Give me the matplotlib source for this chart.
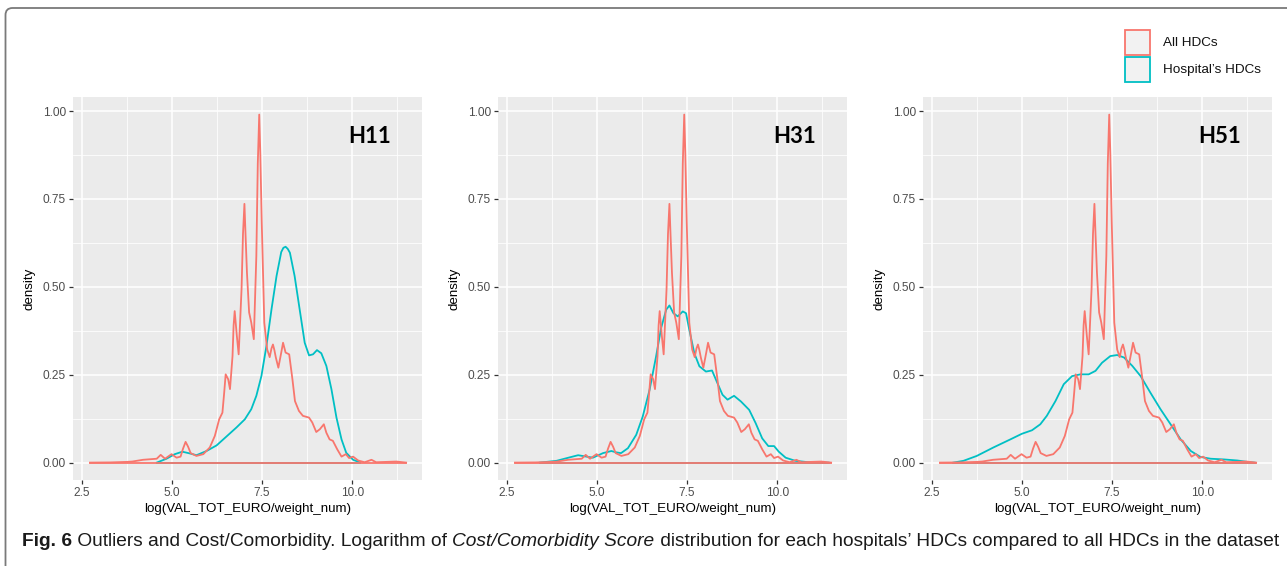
import matplotlib
matplotlib.use("Agg")
import matplotlib.pyplot as plt
from matplotlib.patches import FancyBboxPatch, Rectangle
from matplotlib import font_manager
import numpy as np

# ---------------- data ----------------
panels = ["H11", "H31", "H51"]

all_x = [2.73, 3.30, 3.75, 3.90, 4.20, 4.58, 4.69, 4.81, 4.99, 5.13, 5.24, 5.31, 5.38, 5.45,
         5.52, 5.68, 5.87, 6.05, 6.19, 6.31, 6.40, 6.45, 6.49, 6.56, 6.61, 6.68, 6.71, 6.74,
         6.80, 6.85, 6.93, 6.97, 7.01, 7.04, 7.08, 7.14, 7.20, 7.27, 7.34, 7.38, 7.42, 7.45,
         7.49, 7.56, 7.64, 7.71, 7.76, 7.80, 7.84, 7.88, 7.95, 8.03, 8.08, 8.15, 8.25, 8.34,
         8.41, 8.52, 8.63, 8.80, 8.89, 9.00, 9.10, 9.21, 9.28, 9.37, 9.46, 9.58, 9.70, 9.82,
         9.91, 10.02, 10.16, 10.34, 10.53, 10.66, 11.22, 11.49]
all_y = [0.000, 0.0005, 0.002, 0.003, 0.008, 0.011, 0.022, 0.011, 0.024, 0.014, 0.017, 0.040, 0.059, 0.045,
         0.027, 0.019, 0.024, 0.043, 0.076, 0.123, 0.142, 0.200, 0.251, 0.237, 0.209, 0.303, 0.390, 0.431,
         0.360, 0.308, 0.493, 0.650, 0.736, 0.650, 0.540, 0.427, 0.398, 0.351, 0.588, 0.850, 0.990, 0.880,
         0.682, 0.398, 0.322, 0.300, 0.325, 0.336, 0.320, 0.299, 0.270, 0.313, 0.341, 0.313, 0.308, 0.237,
         0.175, 0.147, 0.133, 0.128, 0.114, 0.087, 0.095, 0.109, 0.085, 0.066, 0.062, 0.038, 0.017, 0.024,
         0.013, 0.017, 0.006, 0.001, 0.008, 0.001, 0.003, 0.000]

h11_x = [4.58, 4.85, 5.08, 5.29, 5.50, 5.68, 5.96, 6.24, 6.51, 6.79, 7.02, 7.20, 7.34, 7.48,
         7.62, 7.76, 7.90, 8.03, 8.09, 8.15, 8.21, 8.27, 8.40, 8.54, 8.68, 8.80, 8.91, 9.02, 9.14, 9.28,
         9.42, 9.56, 9.70, 9.83, 10.02, 10.20]
h11_y = [0.000, 0.011, 0.024, 0.031, 0.026, 0.021, 0.033, 0.049, 0.074, 0.100, 0.123, 0.152, 0.190, 0.246,
         0.332, 0.436, 0.531, 0.599, 0.611, 0.614, 0.608, 0.597, 0.531, 0.436, 0.341, 0.305, 0.308, 0.320,
         0.311, 0.275, 0.209, 0.128, 0.066, 0.028, 0.008, 0.001]

h31_x = [3.42, 3.88, 4.25, 4.48, 4.71, 4.89, 5.17, 5.40, 5.54, 5.67, 5.86, 6.09, 6.27, 6.46,
         6.64, 6.78, 6.92, 7.01, 7.12, 7.24, 7.38, 7.47, 7.56, 7.70, 7.84, 8.02, 8.19, 8.34,
         8.48, 8.62, 8.80, 8.99, 9.22, 9.40, 9.58, 9.75, 9.91, 10.04, 10.23, 10.50, 10.87, 11.42]
h31_y = [0.000, 0.005, 0.015, 0.021, 0.017, 0.014, 0.027, 0.033, 0.029, 0.027, 0.041, 0.079, 0.131, 0.207,
         0.302, 0.383, 0.435, 0.447, 0.425, 0.416, 0.430, 0.425, 0.378, 0.311, 0.274, 0.259, 0.262, 0.226,
         0.193, 0.179, 0.190, 0.174, 0.150, 0.112, 0.069, 0.047, 0.047, 0.031, 0.014, 0.005, 0.001, 0.000]

h51_x = [3.10, 3.38, 3.75, 4.21, 4.68, 5.00, 5.28, 5.51, 5.69, 5.93, 6.16, 6.39, 6.62, 6.85,
         7.04, 7.22, 7.45, 7.64, 7.83, 8.06, 8.29, 8.56, 8.84, 9.12, 9.40, 9.68, 9.95, 10.23,
         10.60, 10.97, 11.25, 11.45]
h51_y = [0.000, 0.005, 0.019, 0.043, 0.066, 0.082, 0.092, 0.109, 0.133, 0.175, 0.223, 0.246, 0.251, 0.251,
         0.261, 0.284, 0.303, 0.306, 0.299, 0.275, 0.246, 0.199, 0.152, 0.109, 0.066, 0.033, 0.016, 0.011,
         0.009, 0.006, 0.002, 0.000]

hosp_series = [(h11_x, h11_y), (h31_x, h31_y), (h51_x, h51_y)]

legend_labels = ["All HDCs", "Hospital\u2019s HDCs"]
x_ticks = [2.5, 5.0, 7.5, 10.0]
x_tick_labels = ["2.5", "5.0", "7.5", "10.0"]
y_ticks = [0.0, 0.25, 0.50, 0.75, 1.00]
y_tick_labels = ["0.00", "0.25", "0.50", "0.75", "1.00"]
x_label = "log(VAL_TOT_EURO/weight_num)"
y_label = "density"

RED = "#F8766D"
TEAL = "#00BFC4"

# ---------------- figure ----------------
W, H = 1287, 566
fig = plt.figure(figsize=(W / 100, H / 100), dpi=100)
fig.patch.set_facecolor("white")

def fx(px):
    return px / W

def fy(py):
    return 1 - py / H

lefts = [73, 498, 923]
top, bottom = 97, 480
width = 349
xlim = (2.26, 11.93)
ylim = (-0.0495, 1.04)

for i, (name, (hx, hy)) in enumerate(zip(panels, hosp_series)):
    ax = fig.add_axes([fx(lefts[i]), fy(bottom), width / W, (bottom - top) / H])
    ax.set_facecolor("#EBEBEB")
    for s in ax.spines.values():
        s.set_visible(False)
    ax.set_xlim(*xlim)
    ax.set_ylim(*ylim)
    ax.set_xticks(x_ticks)
    ax.set_xticklabels(x_tick_labels)
    ax.set_yticks(y_ticks)
    ax.set_yticklabels(y_tick_labels)
    ax.set_xticks([3.75, 6.25, 8.75, 11.25], minor=True)
    ax.set_yticks([0.125, 0.375, 0.625, 0.875], minor=True)
    ax.grid(True, which="major", color="white", lw=1.1, zorder=0)
    ax.grid(True, which="minor", color="white", lw=0.55, zorder=0)
    ax.set_axisbelow(True)
    ax.tick_params(which="major", length=3, width=0.9, color="#333333",
                   labelcolor="#4D4D4D", labelsize=8.6, pad=2)
    ax.tick_params(which="minor", length=0)
    for lab in ax.get_xticklabels() + ax.get_yticklabels():
        lab.set_family("Liberation Sans")

    ax.plot(hx, hy, color=TEAL, lw=1.3, zorder=3)
    ax.plot([hx[0], hx[-1]], [0, 0], color=TEAL, lw=1.3, zorder=3)
    ax.plot(all_x, all_y, color=RED, lw=1.3, zorder=4)
    ax.plot([all_x[0], all_x[-1]], [0, 0], color=RED, lw=1.3, zorder=4)

    ax.set_xlabel(x_label, family="Liberation Sans", fontsize=9.6, color="black", labelpad=3)
    ax.set_ylabel(y_label, family="Liberation Sans", fontsize=9.6, color="black", labelpad=5)

    ax.text(0.85, 0.896, name, transform=ax.transAxes, ha="center", va="center",
            family="Lato", weight="bold", fontsize=16, color="black")

# ---------------- legend ----------------
leg_colors = [RED, TEAL]
box_tops = [30, 57]
for lab, col, bt in zip(legend_labels, leg_colors, box_tops):
    fig.patches.append(Rectangle((fx(1125), fy(bt + 25)), 25 / W, 25 / H,
                                 transform=fig.transFigure, facecolor="#F2F2F2",
                                 edgecolor=col, lw=1.3))
    fig.text(fx(1163), fy(bt + 13), lab, ha="left", va="center",
             family="Liberation Sans", fontsize=9.7, color="#111111")

# ---------------- frame ----------------
frame = FancyBboxPatch((0.055, -1.0), 14.0, (H - 8) / 100 + 1.0,
                       boxstyle="round,pad=0,rounding_size=0.07",
                       transform=fig.dpi_scale_trans, facecolor="none",
                       edgecolor="#7A7A7A", lw=1.3, clip_on=False)
fig.patches.append(frame)

# ---------------- caption ----------------
avail = {f.name for f in font_manager.fontManager.ttflist}
cap_family = "Liberation Sans Narrow" if "Liberation Sans Narrow" in avail else "Liberation Sans"

pieces = [("Fig. 6", "bold", "normal"),
          (" Outliers and Cost/Comorbidity. Logarithm of ", "normal", "normal"),
          ("Cost/Comorbidity Score", "normal", "italic"),
          (" distribution for each hospitals\u2019 HDCs compared to all HDCs in the dataset", "normal", "normal")]

cap_left, cap_right, cap_y = 22, 1276, 541

def draw_caption(fs):
    texts = []
    renderer = fig.canvas.get_renderer()
    x = cap_left
    for s, w, st in pieces:
        t = fig.text(fx(x), fy(cap_y), s, ha="left", va="center", family=cap_family,
                     weight=w, style=st, fontsize=fs, color="#1a1a1a")
        bb = t.get_window_extent(renderer=renderer)
        x += bb.width
        texts.append(t)
    return texts, x

fs = 13.0
texts, xend = draw_caption(fs)
scale = (cap_right - cap_left) / (xend - cap_left)
for t in texts:
    t.remove()
fs = min(fs * scale, 15.5)
texts, xend = draw_caption(fs)

fig.savefig("out.png", dpi=100, facecolor="white")
